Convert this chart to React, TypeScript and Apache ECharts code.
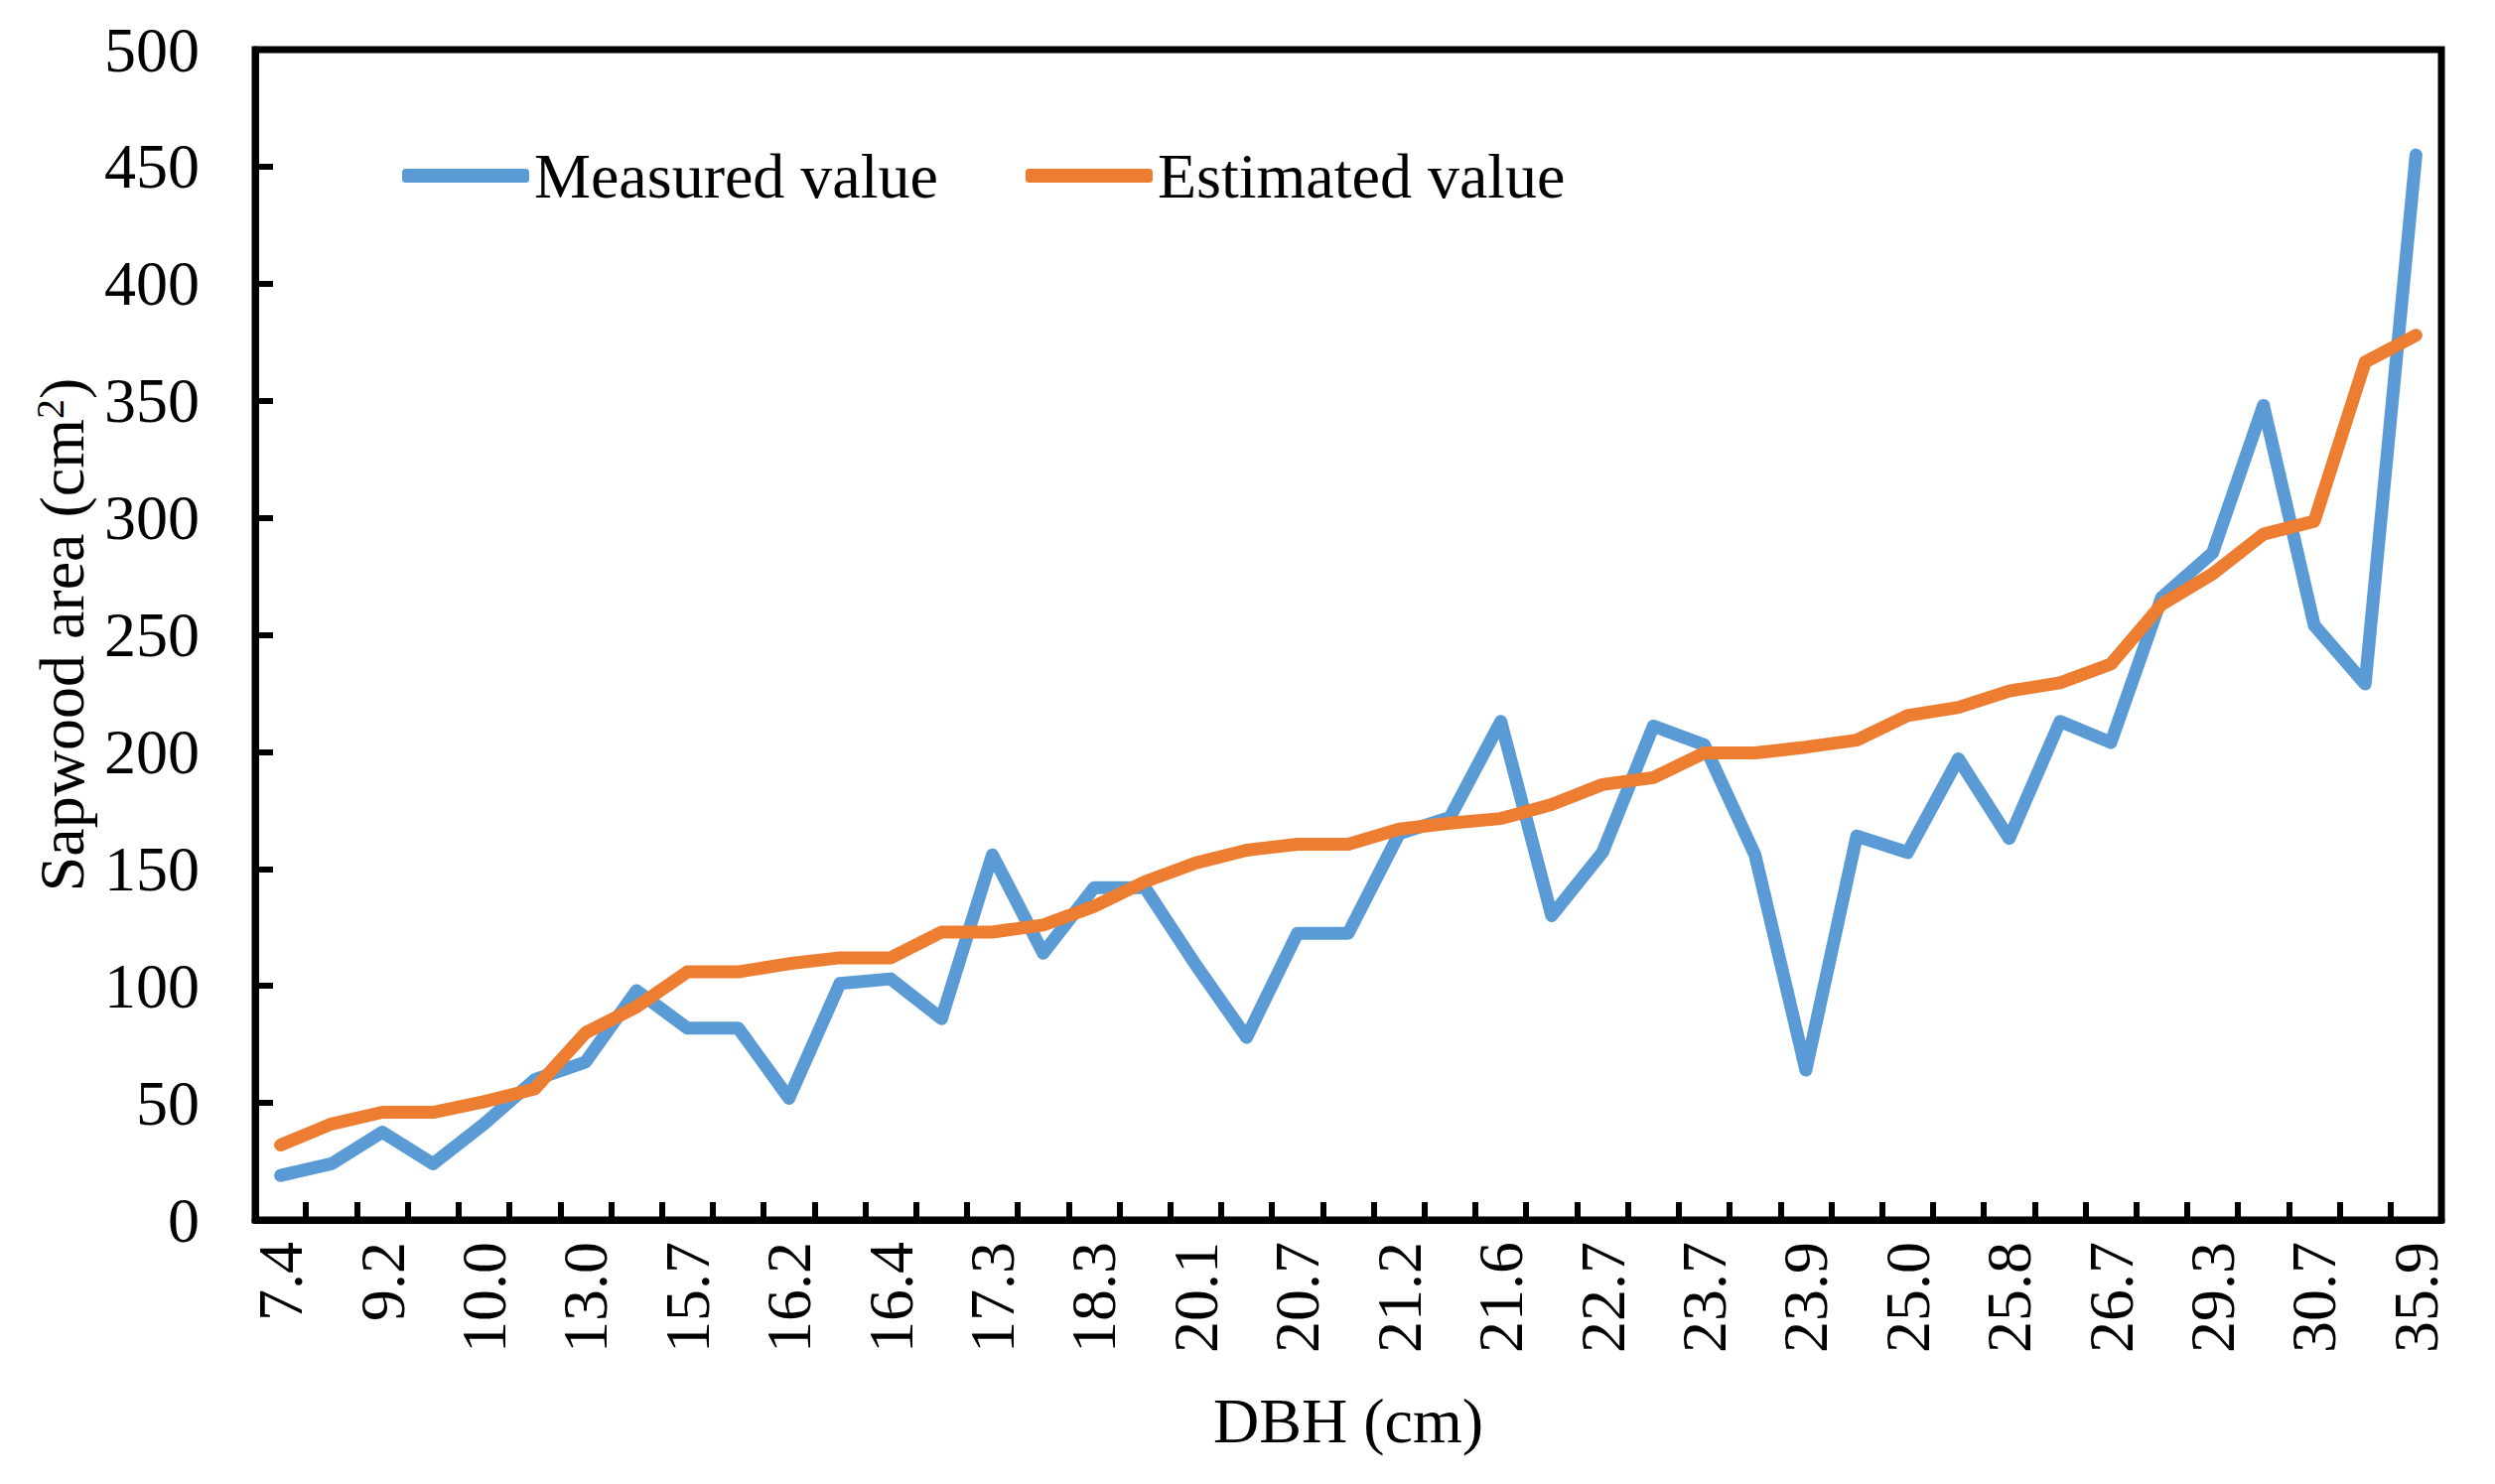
import React, { useEffect, useRef } from "react";
import * as echarts from "echarts";

const categories = [
  "7.4", "8.5", "9.2", "9.6", "10.0", "11.4", "13.0", "14.3", "15.7", "15.9",
  "16.2", "16.3", "16.4", "16.8", "17.3", "17.6", "18.3", "19.2", "20.1", "20.3",
  "20.7", "21.0", "21.2", "21.4", "21.6", "22.1", "22.7", "23.2", "23.7", "23.8",
  "23.9", "24.5", "25.0", "25.4", "25.8", "26.2", "26.7", "28.0", "29.3", "29.9",
  "30.7", "33.2", "35.9",
];

const measured = [
  19, 24, 37.5, 24, 41, 60, 67.5, 98, 82, 82,
  52, 101, 103, 86, 156, 114, 142, 142, 109, 78,
  122.5, 122.5, 165, 172, 213, 130, 157, 211, 203, 156,
  64, 164, 157, 197, 163, 213, 204, 266, 285, 348,
  254, 229, 455,
];

const estimated = [
  32, 41, 46, 46, 50.5, 56, 80, 91, 106, 106,
  109.5, 112, 112, 123, 123, 126, 134, 144.5, 152.5, 158,
  160.5, 160.5, 167, 169.5, 171.5, 177.5, 186, 189, 199.5, 199.5,
  202, 205, 215.5, 219, 226, 229.5, 237.5, 263, 276, 293,
  298.5, 366.5, 378,
];

const seriesNames = ["Measured value", "Estimated value"];
const colors = ["#5B9BD5", "#ED7D31"];

const FONT = "Liberation Serif, Times New Roman, serif";

export default function App() {
  const ref = useRef<HTMLDivElement>(null);

  useEffect(() => {
    if (!ref.current) return;
    const chart = echarts.init(ref.current, undefined, { renderer: "svg" });
    chart.setOption({
      animation: false,
      backgroundColor: "#ffffff",
      textStyle: { fontFamily: FONT, color: "#000" },
      grid: {
        left: 257,
        top: 50,
        width: 2202,
        height: 1179,
        show: true,
        borderColor: "#000",
        borderWidth: 7,
        backgroundColor: "transparent",
      },
      legend: {
        data: seriesNames,
        left: 400,
        top: 140,
        icon: "roundRect",
        itemWidth: 128,
        itemHeight: 14,
        itemGap: 88,
        textStyle: { fontFamily: FONT, fontSize: 64, color: "#000" },
      },
      xAxis: {
        type: "category",
        data: categories,
        boundaryGap: true,
        name: "DBH (cm)",
        nameLocation: "middle",
        nameGap: 170,
        nameTextStyle: { fontFamily: FONT, fontSize: 64, color: "#000" },
        axisLine: { show: true, lineStyle: { color: "#000", width: 7 } },
        axisTick: {
          show: true,
          inside: true,
          length: 18,
          interval: 0,
          lineStyle: { color: "#000", width: 6 },
        },
        axisLabel: {
          interval: 1,
          rotate: 90,
          margin: 22,
          fontFamily: FONT,
          fontSize: 64,
          color: "#000",
        },
        splitLine: { show: false },
      },
      yAxis: {
        type: "value",
        min: 0,
        max: 500,
        interval: 50,
        name: "{a|Sapwood area (cm}{s|2}{a|)}",
        nameLocation: "middle",
        nameGap: 160,
        nameTextStyle: {
          fontFamily: FONT,
          color: "#000",
          rich: {
            a: { fontFamily: FONT, fontSize: 64, color: "#000" },
            s: { fontFamily: FONT, fontSize: 40, color: "#000", verticalAlign: "top" },
          },
        },
        axisLine: { show: true, lineStyle: { color: "#000", width: 7 } },
        axisTick: {
          show: true,
          inside: true,
          length: 18,
          lineStyle: { color: "#000", width: 6 },
        },
        axisLabel: {
          margin: 56,
          fontFamily: FONT,
          fontSize: 64,
          color: "#000",
        },
        splitLine: { show: false },
      },
      series: [
        {
          name: seriesNames[0],
          type: "line",
          data: measured,
          symbol: "none",
          color: colors[0],
          lineStyle: { color: colors[0], width: 13, cap: "round", join: "round" },
          z: 2,
        },
        {
          name: seriesNames[1],
          type: "line",
          data: estimated,
          symbol: "none",
          color: colors[1],
          lineStyle: { color: colors[1], width: 13, cap: "round", join: "round" },
          z: 3,
        },
      ],
    });
    return () => chart.dispose();
  }, []);

  return (
    <div
      ref={ref}
      style={{ position: "fixed", left: 0, top: 0, width: 2513, height: 1495 }}
    />
  );
}
